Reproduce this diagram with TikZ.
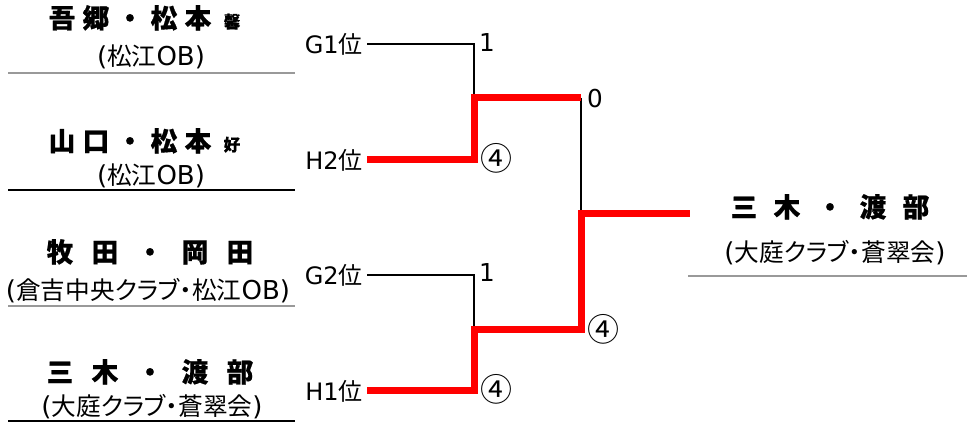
\documentclass[tikz,border=0pt]{standalone}
\usepackage{fontspec}
\setmainfont{DejaVu Sans}
\newfontfamily\cjk{Noto Sans CJK JP}[BoldFeatures={FakeBold=0.6}]
\newfontfamily\cjkp{Noto Sans CJK JP}[RawFeature=+palt]
\newcommand\J[1]{{\cjk #1}}
\newcommand\JP[1]{{\cjkp\fontsize{18.5pt}{19pt}\selectfont #1}}
\newcommand\ch[2]{\makebox[#1]{#2}}
\newcommand\sm[1]{{\fontsize{12.5pt}{12pt}\selectfont #1}}
\tikzset{
  nm/.style={inner sep=0pt, anchor=base, font=\cjk\bfseries\fontsize{20pt}{20pt}\selectfont},
  sub/.style={inner sep=0pt, anchor=base, font=\fontsize{19.5pt}{20pt}\selectfont},
  seed/.style={inner sep=0pt, anchor=east, font=\fontsize{18pt}{18pt}\selectfont},
  score/.style={inner sep=0pt, font=\fontsize{18.5pt}{18pt}\selectfont},
  circ/.style={inner sep=0pt, font=\cjk\fontsize{24pt}{24pt}\selectfont},
  lose/.style={draw=black, line width=1.5pt},
  win/.style={draw=red, line width=5.25pt},
  sepl/.style={draw=#1, line width=0.9pt},
}
\begin{document}
\begin{tikzpicture}[x=0.75pt, y=-0.75pt]
\path[use as bounding box, fill=white] (0,0) rectangle (968,423);

% left entries
\node[nm] (n1) at (147,28) {\ch{25.5pt}{吾}\ch{25.5pt}{郷}\ch{25.5pt}{・}\ch{25.5pt}{松}\ch{25.5pt}{本}\ch{25.5pt}{\sm{馨}}};
\node[sub] (s1) at (151,66) {(\JP{松江}OB)};
\draw[sepl=black!40] (8,73) -- (295,73);

\node[nm] (n2) at (147,151) {\ch{25.5pt}{山}\ch{25.5pt}{口}\ch{25.5pt}{・}\ch{25.5pt}{松}\ch{25.5pt}{本}\ch{25.5pt}{\sm{好}}};
\node[sub] (s2) at (151,185) {(\JP{松江}OB)};
\draw[sepl=black] (8,190) -- (295,190);

\node[nm] (n3) at (150,262) {\ch{33.75pt}{牧}\ch{33.75pt}{田}\ch{33.75pt}{・}\ch{33.75pt}{岡}\ch{33.75pt}{田}};
\node[sub] (s3) at (148,300) {(\JP{倉吉中央クラブ・松江}OB)};
\draw[sepl=black!40] (8,306) -- (295,306);

\node[nm] (n4) at (150,382) {\ch{33.75pt}{三}\ch{33.75pt}{木}\ch{33.75pt}{・}\ch{33.75pt}{渡}\ch{33.75pt}{部}};
\node[sub] (s4) at (152,416) {(\JP{大庭クラブ・蒼翠会})};
\draw[sepl=black] (8,421) -- (295,421);

% winner
\node[nm] (w) at (830,217) {\ch{32.25pt}{三}\ch{32.25pt}{木}\ch{32.25pt}{・}\ch{32.25pt}{渡}\ch{32.25pt}{部}};
\node[sub] (ws) at (835,262) {(\JP{大庭クラブ・蒼翠会})};
\draw[sepl=black!40] (688,276) -- (967,276);

% seeds
\node[seed] (g1) at (363,44) {G1\J{位}};
\node[seed] (h2) at (363,160) {H2\J{位}};
\node[seed] (g2) at (363,275) {G2\J{位}};
\node[seed] (h1) at (363,391) {H1\J{位}};

\coordinate (a1) at (474,44);
\coordinate (a2) at (474,160);
\coordinate (ja) at (474,98);
\coordinate (b1) at (474,275);
\coordinate (b2) at (474,391);
\coordinate (jb) at (474,330);
\coordinate (ca) at (581,98);
\coordinate (cb) at (581,330);
\coordinate (jc) at (581,214);
\coordinate (fin) at (690,214);

% connectors
\draw[lose] (g1.east) ++(4,0) -- (a1) -- (ja);
\draw[lose] (g2.east) ++(4,0) -- (b1) -- (jb);
\draw[lose] (ca) -- (jc);
\draw[win] (h2.east) ++(4,0) -- (a2) -- (ja) -- (ca);
\draw[win] (h1.east) ++(4,0) -- (b2) -- (jb) -- (cb) -- (jc) -- (fin);

% scores
\node[score] (sc1) at (487,43) {1};
\node[circ] (sc2) at (496,158) {④};
\node[score] (sc3) at (595,99) {0};
\node[score] (sc4) at (487,273) {1};
\node[circ] (sc5) at (496,389) {④};
\node[circ] (sc6) at (603,329) {④};
\end{tikzpicture}
\end{document}
